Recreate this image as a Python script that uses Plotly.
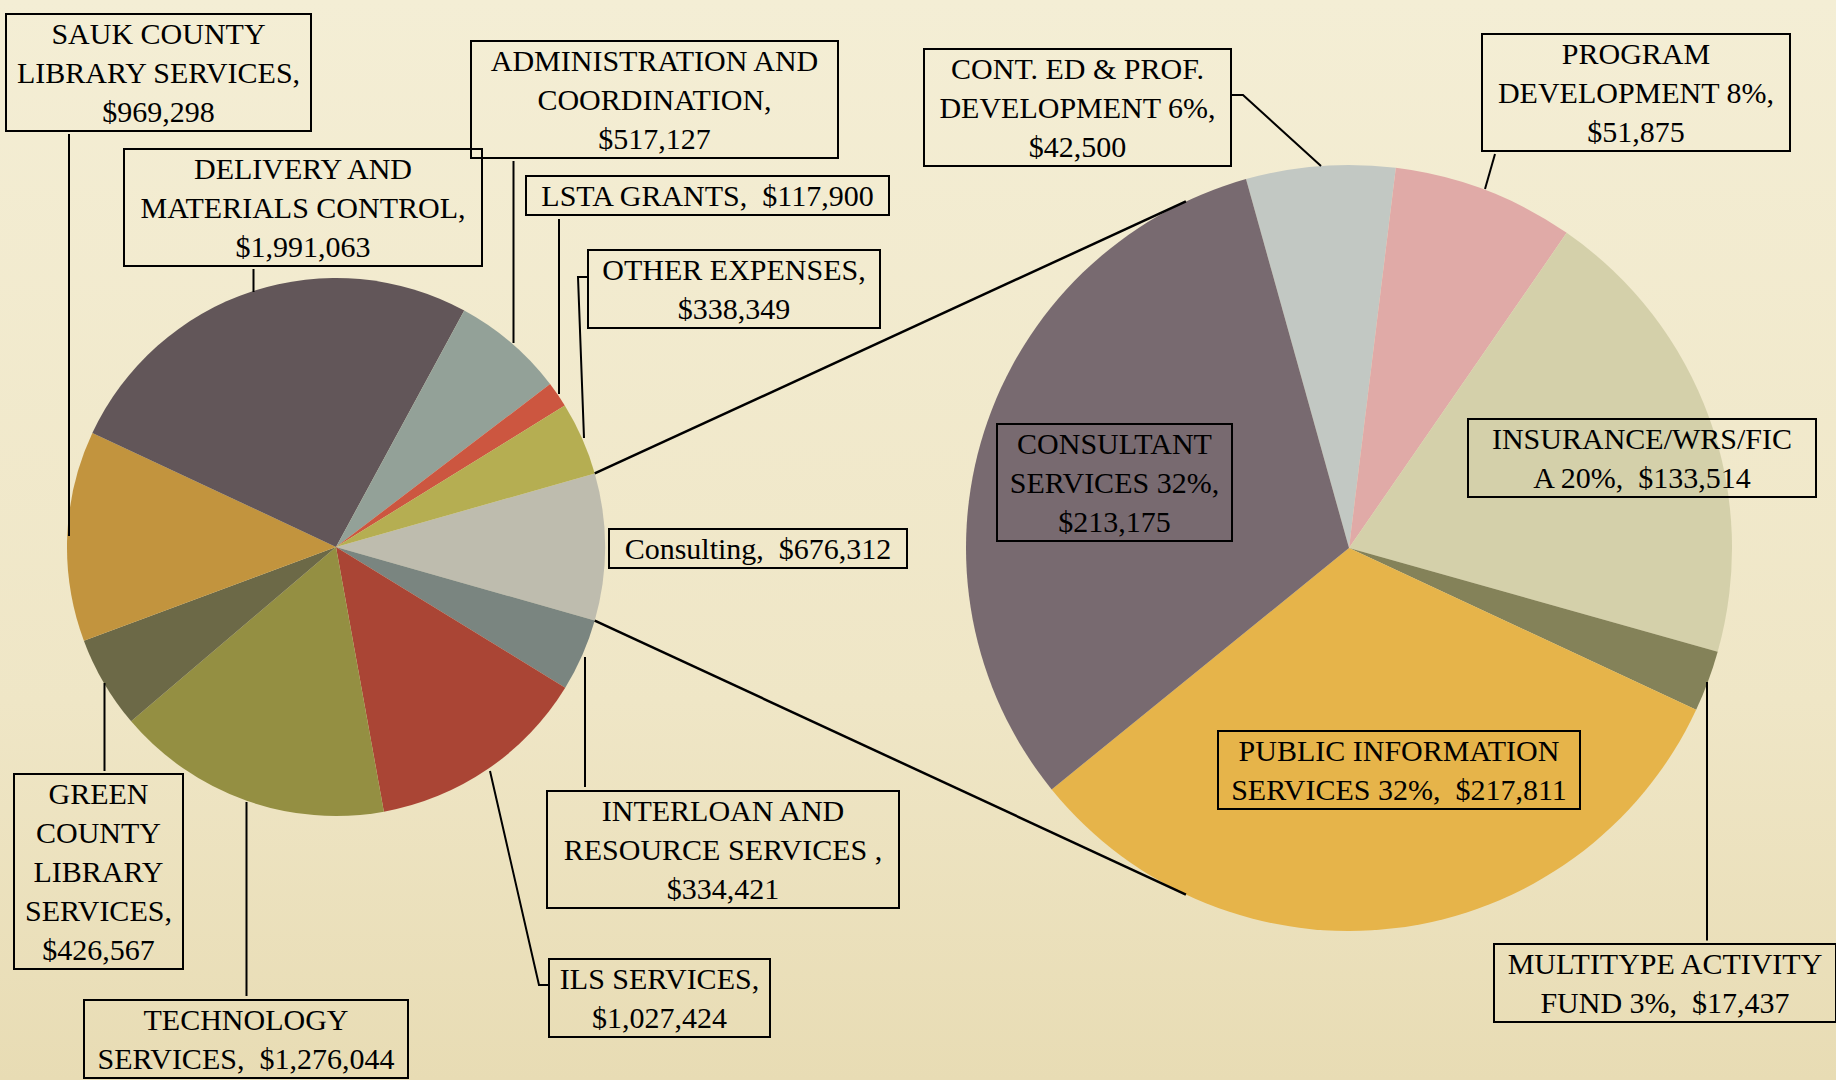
import math
import plotly.graph_objects as go

W, H = 1836, 1080

# ---------------- data ----------------
left_names = ["Consulting", "Interloan and Resource Services", "ILS Services",
              "Technology Services", "Green County Library Services",
              "Sauk County Library Services", "Delivery and Materials Control",
              "Administration and Coordination", "LSTA Grants", "Other Expenses"]
left_values = [676312, 334421, 1027424, 1276044, 426567, 969298, 1991063, 517127, 117900, 338349]
left_colors = ["#BEBCAE", "#7A8580", "#AA4535", "#948F42", "#6C6947",
               "#C2943E", "#625659", "#93A198", "#CC5640", "#B5AE52"]

right_names = ["Cont. Ed & Prof. Development", "Program Development", "Insurance/WRS/FICA",
               "Multitype Activity Fund", "Public Information Services", "Consultant Services"]
right_values = [42500, 51875, 133514, 17437, 217811, 213175]
right_colors = ["#C2C8C3", "#E0AAA7", "#D4D0AA", "#848259", "#E6B44A", "#786A70"]

left_label_text = [
    "Consulting,\u00a0 {v}",
    "INTERLOAN AND<br>RESOURCE SERVICES ,<br>{v}",
    "ILS SERVICES,<br>{v}",
    "TECHNOLOGY<br>SERVICES,\u00a0 {v}",
    "GREEN<br>COUNTY<br>LIBRARY<br>SERVICES,<br>{v}",
    "SAUK COUNTY<br>LIBRARY SERVICES,<br>{v}",
    "DELIVERY AND<br>MATERIALS CONTROL,<br>{v}",
    "ADMINISTRATION AND<br>COORDINATION,<br>{v}",
    "LSTA GRANTS,\u00a0 {v}",
    "OTHER EXPENSES,<br>{v}",
]
right_label_text = [
    "CONT. ED &amp; PROF.<br>DEVELOPMENT {p},<br>{v}",
    "PROGRAM<br>DEVELOPMENT {p},<br>{v}",
    "INSURANCE/WRS/FIC<br>A {p},\u00a0 {v}",
    "MULTITYPE ACTIVITY<br>FUND {p},\u00a0 {v}",
    "PUBLIC INFORMATION<br>SERVICES {p},\u00a0 {v}",
    "CONSULTANT<br>SERVICES {p},<br>{v}",
]

# ---------------- layout geometry (pixels) ----------------
LEFT = dict(cx=336, cy=547, r=269)
RIGHT = dict(cx=1349, cy=548, r=383)
CONNECT_ANGLE = 115.2  # deg, where connector lines meet the second pie

# label boxes: (center x, center y, box width)
left_boxes = [
    (758, 548.5, 296), (723, 849, 350), (659.5, 998, 219), (246, 1039, 322),
    (98.5, 871, 167), (158.5, 72.5, 303), (303, 207.5, 356), (654.5, 99.5, 365),
    (707.5, 195.5, 361), (734, 289, 290),
]
right_boxes = [
    (1077.5, 107.5, 305), (1635.5, 92.5, 306), (1642, 457.5, 346),
    (1665, 983, 340), (1398.7, 769.5, 360), (1114.5, 482.5, 233),
]
leaders = [
    [(69, 134), (69, 536)],
    [(253.5, 269), (253.5, 292)],
    [(513.5, 161), (513.5, 343)],
    [(559, 219), (559, 394)],
    [(589, 277), (578, 277), (584, 438)],
    [(585, 657), (585, 787)],
    [(490, 771), (539, 985), (550, 985)],
    [(246.5, 802), (246.5, 996)],
    [(104.5, 683), (104.5, 771)],
    [(1230, 95), (1243, 95), (1321, 166)],
    [(1495, 154), (1485, 189)],
    [(1707, 682), (1707, 940.5)],
]


def px(x):
    return x / W


def py(y):
    return 1 - y / H


def domain(g):
    return dict(x=[px(g["cx"] - g["r"]), px(g["cx"] + g["r"])],
                y=[py(g["cy"] + g["r"]), py(g["cy"] - g["r"])])


total_left = sum(left_values)
split_frac = left_values[0] / total_left
left_rotation = 90 - 180 * split_frac

total_right = sum(right_values)
right_rotation = -15.6

fig = go.Figure()

# parchment background
fig.add_trace(go.Scatter(
    x=[0, 1, 1, 0, 0], y=[0, 0, 1, 1, 0], mode="lines", fill="toself",
    line=dict(width=0, color="rgba(0,0,0,0)"),
    fillgradient=dict(type="vertical",
                      colorscale=[[0, "#E8DCB4"], [0.35, "#EFE6C6"], [1, "#F4EED5"]]),
    hoverinfo="skip", showlegend=False))

fig.add_trace(go.Pie(
    labels=left_names, values=left_values, sort=False, direction="clockwise",
    rotation=left_rotation, textinfo="none", domain=domain(LEFT),
    marker=dict(colors=left_colors, line=dict(width=0)), showlegend=False,
    hoverinfo="label+value+percent"))

fig.add_trace(go.Pie(
    labels=right_names, values=right_values, sort=False, direction="clockwise",
    rotation=right_rotation, textinfo="none", domain=domain(RIGHT),
    marker=dict(colors=right_colors, line=dict(width=0)), showlegend=False,
    hoverinfo="label+value+percent"))

shapes = []
# connector lines between the pies
a_left = math.radians(180 * split_frac)
a_right = math.radians(CONNECT_ANGLE)
for s in (1, -1):
    x0 = LEFT["cx"] + LEFT["r"] * math.cos(a_left)
    y0 = LEFT["cy"] - s * LEFT["r"] * math.sin(a_left)
    x1 = RIGHT["cx"] + RIGHT["r"] * math.cos(a_right)
    y1 = RIGHT["cy"] - s * RIGHT["r"] * math.sin(a_right)
    shapes.append(dict(type="line", xref="paper", yref="paper",
                       x0=px(x0), y0=py(y0), x1=px(x1), y1=py(y1),
                       line=dict(color="#000000", width=2.5), layer="above"))

for pts in leaders:
    path = "M " + " L ".join(f"{px(x)},{py(y)}" for x, y in pts)
    shapes.append(dict(type="path", xref="paper", yref="paper", path=path,
                       line=dict(color="#000000", width=2), layer="above"))


def money(v):
    return f"${v:,}"


annotations = []
for tmpl, v, (bx, by, bw) in zip(left_label_text, left_values, left_boxes):
    annotations.append((tmpl.format(v=money(v)), bx, by, bw))
for tmpl, v, (bx, by, bw) in zip(right_label_text, right_values, right_boxes):
    pct = f"{round(100 * v / total_right)}%"
    annotations.append((tmpl.format(v=money(v), p=pct), bx, by, bw))

fig.update_layout(annotations=[
    dict(text=t, x=px(bx), y=py(by), xref="paper", yref="paper",
         xanchor="center", yanchor="middle", showarrow=False,
         width=bw - 4, align="center",
         font=dict(family="Liberation Serif", size=30, color="#000000"),
         bordercolor="#000000", borderwidth=2, borderpad=2)
    for t, bx, by, bw in annotations
])

fig.update_layout(
    width=W, height=H, margin=dict(l=0, r=0, t=0, b=0),
    paper_bgcolor="#F1E9CC", plot_bgcolor="rgba(0,0,0,0)",
    xaxis=dict(range=[0, 1], visible=False, fixedrange=True, domain=[0, 1]),
    yaxis=dict(range=[0, 1], visible=False, fixedrange=True, domain=[0, 1]),
    shapes=shapes, showlegend=False,
)

fig.write_html("out.html")
